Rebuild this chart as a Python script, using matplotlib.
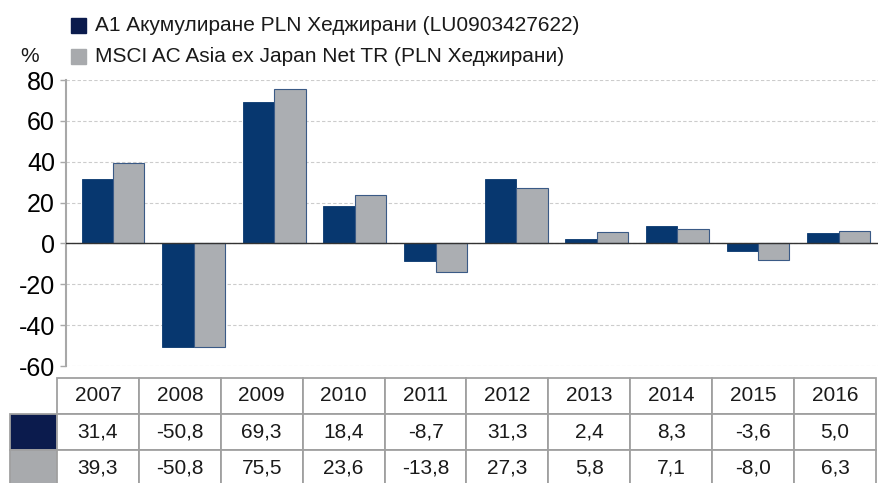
import matplotlib
matplotlib.use("Agg")
import matplotlib.pyplot as plt
import numpy as np
from matplotlib.patches import Rectangle

plt.rcParams['font.family'] = ['Liberation Sans', 'DejaVu Sans']

years = ['2007', '2008', '2009', '2010', '2011', '2012', '2013', '2014', '2015', '2016']
fund = [31.4, -50.8, 69.3, 18.4, -8.7, 31.3, 2.4, 8.3, -3.6, 5.0]
bench = [39.3, -50.8, 75.5, 23.6, -13.8, 27.3, 5.8, 7.1, -8.0, 6.3]
fund_label = 'A1 Акумулиране PLN Хеджирани (LU0903427622)'
bench_label = 'MSCI AC Asia ex Japan Net TR (PLN Хеджирани)'
yticks = [80, 60, 40, 20, 0, -20, -40, -60]

def fmt(v):
    return f"{v:.1f}".replace('.', ',')

W, H = 879, 483
fig = plt.figure(figsize=(W / 100, H / 100), dpi=100)

c_dark = '#07376f'
c_gray = '#abaeb2'
c_edge = '#3a5a86'
sw_dark = '#0b1b4d'
sw_gray = '#a8aaad'

ax = fig.add_axes([66 / W, (H - 366) / H, 1 - 66 / W, (366 - 80) / H])
x = np.arange(len(years))
bw = 0.39
ax.bar(x - bw / 2, fund, bw, color=c_dark, edgecolor=c_dark, linewidth=0.6, zorder=3)
ax.bar(x + bw / 2, bench, bw, color=c_gray, edgecolor=c_edge, linewidth=0.8, zorder=3)
ax.set_xlim(-0.583, 9.50)
ax.set_ylim(-60, 80)
ax.set_yticks(yticks)
ax.set_yticklabels([str(t) for t in yticks], fontsize=18)
ax.set_xticks([])
for s in ['top', 'right', 'bottom']:
    ax.spines[s].set_visible(False)
ax.spines['left'].set_color('#a8a8a8')
ax.spines['left'].set_linewidth(1.5)
ax.tick_params(axis='y', length=4, color='#a8a8a8', width=1, pad=4)
ax.grid(axis='y', linestyle=(0, (3, 2)), color='#cccccc', linewidth=0.8, zorder=0)
ax.axhline(0, color='#333333', linewidth=1, zorder=4)

# legend & unit
fig.text(20 / W, 1 - 56 / H, '%', fontsize=15, va='center', ha='left', color='#1a1a1a')
for i, (lab, col) in enumerate([(fund_label, sw_dark), (bench_label, sw_gray)]):
    yc = [25.5, 56.5][i]
    fig.patches.append(Rectangle((71 / W, 1 - (yc + 7.5) / H), 15 / W, 15 / H,
                                 transform=fig.transFigure, color=col, figure=fig))
    fig.text(95 / W, 1 - yc / H, lab, fontsize=15, va='center', ha='left', color='#1a1a1a')

# table
tax = fig.add_axes([0, 0, 1, 1])
tax.set_axis_off()
cell_text = [[''] + years, [''] + [fmt(v) for v in fund], [''] + [fmt(v) for v in bench]]
col_w = [47] + [81.9] * 10
tot_w = sum(col_w)
row_h = 36
tb = tax.table(cellText=cell_text, colWidths=[c / tot_w for c in col_w],
               bbox=[10 / W, 1 - (378 + 3 * row_h) / H, tot_w / W, 3 * row_h / H],
               cellLoc='center')
tb.auto_set_font_size(False)
tb.set_fontsize(15)
for (r, c), cell in tb.get_celld().items():
    cell.set_edgecolor('#a0a0a0')
    cell.set_linewidth(1.3)
    if r == 0 and c == 0:
        cell.visible_edges = ''
    if c == 0 and r == 1:
        cell.set_facecolor(sw_dark)
    if c == 0 and r == 2:
        cell.set_facecolor(sw_gray)
    cell.get_text().set_color('#1a1a1a')

fig.savefig('out.png', dpi=100)
